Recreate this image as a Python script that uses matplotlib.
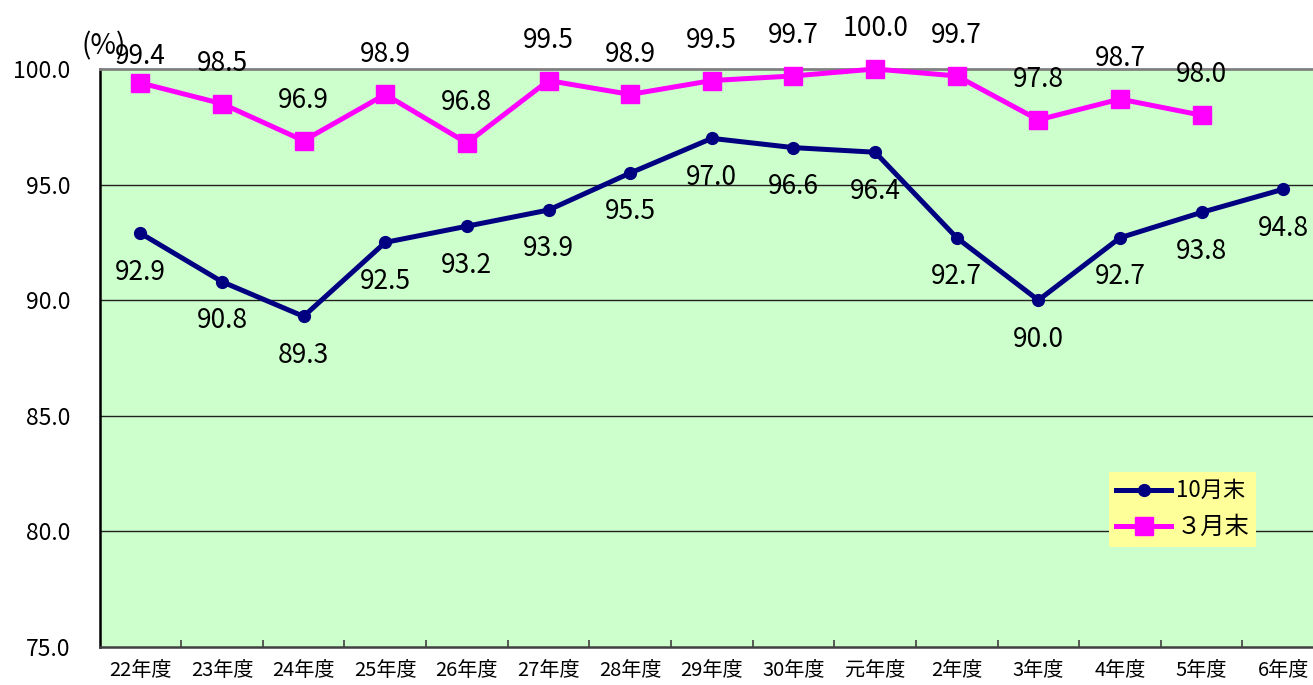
import matplotlib
matplotlib.use("Agg")
import matplotlib.pyplot as plt
import numpy as np

plt.rcParams['font.family'] = ['Noto Sans CJK JP', 'DejaVu Sans']

#categories and values
years = ['22年度', '23年度', '24年度', '25年度', '26年度', '27年度', '28年度', '29年度',
         '30年度', '元年度', '2年度', '3年度', '4年度', '5年度', '6年度']
oct_end = [92.9, 90.8, 89.3, 92.5, 93.2, 93.9, 95.5, 97.0, 96.6, 96.4, 92.7, 90.0, 92.7, 93.8, 94.8]
mar_end = [99.4, 98.5, 96.9, 98.9, 96.8, 99.5, 98.9, 99.5, 99.7, 100.0, 99.7, 97.8, 98.7, 98.0]
y_ticks = [75.0, 80.0, 85.0, 90.0, 95.0, 100.0]

fig = plt.figure(figsize=(13.13, 6.85), dpi=100)
#plot area runs past the right edge of the picture, like the original crop
ax = fig.add_axes([99.5/1313, 38/685, 1224.6/1313, 578/685])
ax.set_facecolor('#CCFFCC')

x = np.arange(len(years))
ax.set_xlim(-0.5, len(years) - 0.5)
ax.set_ylim(75, 100)

#grid lines
for v in y_ticks[1:-1]:
    ax.axhline(v, color='#202020', linewidth=1.0, zorder=1)

ax.plot(x, oct_end, color='#000080', linewidth=3.6, marker='o', markersize=8.5,
        markeredgewidth=1.0, label='10月末', zorder=3, clip_on=False)
ax.plot(x[:len(mar_end)], mar_end, color='#FF00FF', linewidth=3.6, marker='s', markersize=13.5,
        markeredgewidth=1.0, label='３月末', zorder=4, clip_on=False)

#data labels
for i, v in enumerate(oct_end):
    ax.annotate('%.1f' % v, (x[i], v), xytext=(0, -28), textcoords='offset points',
                ha='center', va='center', fontsize=19, zorder=5)
for i, v in enumerate(mar_end):
    off = 19 if i == 0 else 29
    ax.annotate('%.1f' % v, (x[i], v), xytext=(0, off), textcoords='offset points',
                ha='center', va='center', fontsize=19, zorder=5, annotation_clip=False)

#axes styling
ax.spines['top'].set_color('#808080')
ax.spines['top'].set_linewidth(2.0)
ax.spines['left'].set_color('#000000')
ax.spines['left'].set_linewidth(1.8)
ax.spines['bottom'].set_color('#404040')
ax.spines['bottom'].set_linewidth(1.8)
ax.spines['right'].set_visible(False)

ax.set_yticks(y_ticks)
ax.set_yticklabels(['%.1f' % v for v in y_ticks], fontsize=16.5)
ax.tick_params(axis='y', length=0, pad=21)

ax.set_xticks(x)
ax.set_xticklabels(years, fontsize=14.5)
ax.set_xticks(np.arange(0.5, len(years) - 1, 1.0), minor=True)
ax.tick_params(axis='x', which='major', length=0, pad=9)
ax.tick_params(axis='x', which='minor', direction='in', length=5, width=1.2, color='#404040')

fig.text(81/1313, 1 - 46/685, '(%)', fontsize=20, ha='left', va='center')

leg = ax.legend(loc='upper left', bbox_to_anchor=((1109 - 99.5)/1224.6, (647 - 472)/578),
                frameon=True, fancybox=False, facecolor='#FFFF99', edgecolor='none',
                framealpha=1.0, borderaxespad=0, borderpad=0.35, handlelength=2.64,
                handletextpad=0.24, labelspacing=0.55, prop={'size': 15})
texts = leg.get_texts()
texts[0].set_fontsize(16)
texts[1].set_fontsize(17.5)

fig.savefig('out.png', dpi=100)
